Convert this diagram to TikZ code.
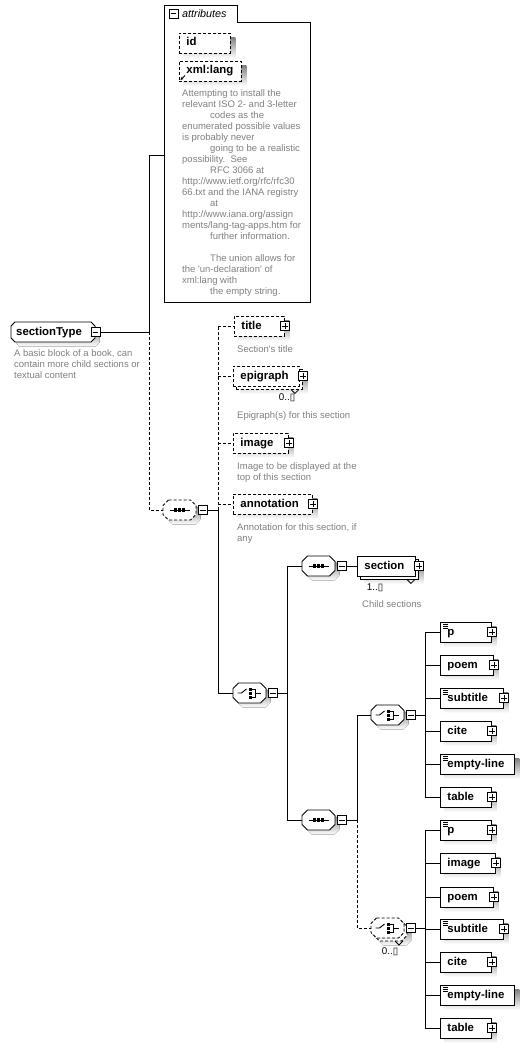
\documentclass[tikz,border=0pt]{standalone}
\usepackage{fontspec}
\setmainfont{Liberation Sans}
\newfontfamily\glyphfont{DejaVu Sans}
\usetikzlibrary{arrows.meta}

\definecolor{doctext}{RGB}{128,128,128}
\definecolor{shade}{RGB}{192,192,192}

\pgfdeclarelayer{shadows}
\pgfsetlayers{shadows,main}

% octagon outline of a compositor (sequence / choice)
\newcommand\octpath[5]{(#1+#5,#2) -- (#3-#5,#2) -- (#3,#2+#5) -- (#3,#4-#5) -- (#3-#5,#4) -- (#1+#5,#4) -- (#1,#4-#5) -- (#1,#2+#5) -- cycle}
% left, top, right, bottom, line style, shadow offset
\newcommand\octshape[6]{%
  \fill[shade, shift={(#6,#6)}] \octpath{#1}{#2}{#3}{#4}{5.5};
  \draw[fill=white, line width=0.9pt, #5] \octpath{#1}{#2}{#3}{#4}{5.5};}
% named node over a compositor, with its collapse box
\newcommand\compnode[5]{%
  \node[inner sep=0pt, minimum width={(#4-#2)*1pt}, minimum height={(#5-#3)*1pt}] (#1) at ({(#2+#4)/2},{(#3+#5)/2}) {};
  \node[pmbox] (#1-pm) at ([xshift=7pt]#1.east) {};
  \minusmark{#1-pm}}
\newcommand\minusmark[1]{\draw[line width=0.8pt] ([xshift=2pt]#1.west) -- ([xshift=-2pt]#1.east);}
\newcommand\plusmark[1]{\draw[line width=0.8pt] ([xshift=2pt]#1.west) -- ([xshift=-2pt]#1.east) ([yshift=-2pt]#1.north) -- ([yshift=2pt]#1.south);}
% grey drop shadow under a box, kept on the lowest layer
\newcommand\boxshadow[1]{%
  \begin{pgfonlayer}{shadows}
    \fill[shade] ([shift={(4.5,4.5)}]#1.north west) rectangle ([shift={(4.5,4.5)}]#1.south east);
  \end{pgfonlayer}}
% element box: [style]{name}{west point}{width}{label}
\newcommand\element[5][]{%
  \node[elbox,#1,minimum width=#4pt] (#2) at (#3) {\makebox[\dimexpr#4pt-14pt\relax][l]{#5}};
  \boxshadow{#2}}
% element with several occurrences: a second box behind the first
\newcommand\stackedelement[5][]{%
  \node[elbox,#1,minimum width=#4pt] (#2-back) at ([shift={(3,3)}]#3) {};
  \boxshadow{#2-back}
  \node[elbox,#1,minimum width=#4pt] (#2) at (#3) {\makebox[\dimexpr#4pt-14pt\relax][l]{#5}};}
\newcommand\expander[1]{\node[pmbox] (#1-pm) at (#1.east) {}; \plusmark{#1-pm}}
\newcommand\textmark[1]{%
  \draw[line width=0.6pt] ([shift={(3,2.5)}]#1.north west) -- ++(5,0)
    ([shift={(3,4.5)}]#1.north west) -- ++(5,0)
    ([shift={(3,6.5)}]#1.north west) -- ++(5,0);}
\newcommand\multimark[1]{\draw[line width=0.8pt, shift={(#1)}] (-12,0) -- (-8,4) -- (-4,0);}
\newcommand\seqicon[1]{%
  \draw[line width=0.9pt] ([xshift=-10pt]#1.center) -- ([xshift=10pt]#1.center);
  \foreach \d in {-4,0,4} \fill ([xshift=\d pt]#1.center) +(-1.6,-1.6) rectangle +(1.6,1.6);}
\newcommand\choiceicon[1]{%
  \begin{scope}[shift={(#1.center)}]
    \draw[line width=0.9pt] (-12,0) -- (-8,0) -- (-3,-4);
    \foreach \d in {-4,0,4} \fill (1,\d) +(-1.5,-1.5) rectangle +(1.5,1.5);
    \draw[line width=0.9pt] (2.5,-4) -- (6,-4) -- (6,4) -- (2.5,4) (6,0) -- (11,0);
  \end{scope}}

\begin{document}
\begin{tikzpicture}[x=1pt, y=-1pt,
  conn/.style={line width=0.9pt},
  optbox/.style={dash pattern=on 3pt off 2pt},
  optconn/.style={conn, optbox},
  elbox/.style={draw, fill=white, line width=0.9pt, rectangle, minimum height=20pt,
    inner xsep=7pt, inner ysep=0pt, anchor=west,
    font=\fontsize{11.4}{13}\selectfont\bfseries, text height=8pt, text depth=2pt},
  pmbox/.style={draw, fill=white, line width=0.8pt, minimum size=9pt, inner sep=0pt},
  doc/.style={text=doctext, font=\fontsize{9.5}{11}\selectfont, align=left, anchor=north west, inner sep=0pt},
  num/.style={font=\fontsize{9.8}{11}\selectfont, inner sep=0pt},
]
\begin{pgfonlayer}{shadows}
  \useasboundingbox (0,0) rectangle (529,1048);
  \fill[white] (0,0) rectangle (529,1048);
\end{pgfonlayer}

% ---------- attribute group ----------
\draw[line width=0.9pt] (164,302) -- (164,5) -- (237,5) -- (237,22) -- (310,22) -- (310,302) -- cycle;
\node[inner sep=0pt, minimum width=146pt, minimum height=280pt] (attrs) at (237,162) {};
\node[pmbox] (attrs-pm) at (173.5,13.5) {};
\minusmark{attrs-pm}
\node[anchor=west, inner sep=0pt, font=\fontsize{10.8}{12}\selectfont\itshape] (attrs-title) at (182,13.5) {attributes};
\element[optbox]{id}{179,43}{51}{id}
\element[optbox]{xmllang}{179,71}{62}{xml:lang}
\draw[-{Stealth[length=3pt,width=3pt]}, line width=0.8pt]
  ([shift={(6,-6)}]xmllang.south west) -- ([shift={(1.5,-1.5)}]xmllang.south west);
\node[doc] (xmllang-doc) at (182,88.3) {\strut Attempting to install the\\
relevant ISO 2- and 3-letter\\
\hspace*{28pt}codes as the\\
enumerated possible values\\
is probably never\\
\hspace*{28pt}going to be a realistic\\
possibility.\ \ See\\
\hspace*{28pt}RFC 3066 at\\
http://www.ietf.org/rfc/rfc30\\
66.txt and the IANA registry\\
\hspace*{28pt}at\\
http://www.iana.org/assign\\
ments/lang-tag-apps.htm for\\
\hspace*{28pt}further information.\\
\mbox{}\\
\hspace*{28pt}The union allows for\\
the \textquotesingle un-declaration\textquotesingle\ of\\
xml:lang with\\
\hspace*{28pt}the empty string.};

% ---------- root element ----------
\fill[shade, shift={(4.5,4.5)}] \octpath{11}{322}{95}{342}{4};
\draw[fill=white, line width=0.9pt] \octpath{11}{322}{95}{342}{4};
\node[anchor=west, inner sep=0pt, font=\fontsize{11.4}{13}\selectfont\bfseries, text height=8pt, text depth=2pt] (st) at (16,332) {sectionType};
\node[pmbox] (st-pm) at (95.5,332) {};
\minusmark{st-pm}
\node[doc] (st-doc) at (14,348.3) {\strut A basic block of a book, can\\contain more child sections or\\textual content};

% ---------- first sequence ----------
\octshape{163}{500}{196}{520}{optbox}{4.5}
\compnode{seq1}{163}{500}{196}{520}
\seqicon{seq1}

\element[optbox]{title}{234,326}{50}{title}
\expander{title}
\node[doc] (title-doc) at (237,344.3) {\strut Section\textquotesingle s title};

\stackedelement[optbox]{epigraph}{233,376}{66}{epigraph}
\node[pmbox] (epigraph-pm) at (epigraph-back.east |- epigraph.east) {};
\plusmark{epigraph-pm}
\multimark{epigraph-back.south east}
\node[num] (epigraph-occ) at (287,398) {0..{\glyphfont ▯}};
\node[doc] (epigraph-doc) at (237,410.3) {\strut Epigraph(s) for this section};

\element[optbox]{image}{233,443}{55}{image}
\expander{image}
\node[doc] (image-doc) at (237,461.3) {\strut Image to be displayed at the\\top of this section};

\element[optbox]{annotation}{233,504}{79}{annotation}
\expander{annotation}
\node[doc] (annotation-doc) at (237,522.3) {\strut Annotation for this section, if\\any};

% ---------- choice of content ----------
\octshape{233}{683}{266}{703}{}{4.5}
\compnode{ch1}{233}{683}{266}{703}
\choiceicon{ch1}

\octshape{302}{556}{335}{576}{}{4.5}
\compnode{seq2}{302}{556}{335}{576}
\seqicon{seq2}

\stackedelement{section}{357,566}{58}{section}
\node[pmbox] (section-pm) at (section-back.east |- section.east) {};
\plusmark{section-pm}
\multimark{section-back.south east}
\node[num] (section-occ) at (375,588) {1..{\glyphfont ▯}};
\node[doc] (section-doc) at (362,599.3) {\strut Child sections};

\octshape{302}{810}{335}{830}{}{4.5}
\compnode{seq3}{302}{810}{335}{830}
\seqicon{seq3}

\octshape{371}{705}{404}{725}{}{4.5}
\compnode{ch2}{371}{705}{404}{725}
\choiceicon{ch2}

\octshape{374}{921}{407}{941}{optbox}{4.5}
\octshape{371}{918}{404}{938}{optbox}{0}
\compnode{ch3}{371}{918}{404}{938}
\choiceicon{ch3}
\coordinate (ch3-back) at (407,941);
\multimark{ch3-back}
\node[num] (ch3-occ) at (390,952) {0..{\glyphfont ▯}};

% block content, first choice
\element{p1}{440,632}{51}{p}            \expander{p1} \textmark{p1}
\element{poem1}{440,665}{53}{poem}      \expander{poem1}
\element{subtitle1}{440,698}{63}{subtitle} \expander{subtitle1} \textmark{subtitle1}
\element{cite1}{440,731}{51}{cite}      \expander{cite1}
\element{emptyline1}{440,764}{74}{empty-line} \textmark{emptyline1}
\element{table1}{440,797}{51}{table}    \expander{table1}

% block content, repeated choice
\element{p2}{440,830}{51}{p}            \expander{p2} \textmark{p2}
\element{image2}{440,863}{55}{image}    \expander{image2}
\element{poem2}{440,897}{53}{poem}      \expander{poem2}
\element{subtitle2}{440,929}{63}{subtitle} \expander{subtitle2} \textmark{subtitle2}
\element{cite2}{440,962}{51}{cite}      \expander{cite2}
\element{emptyline2}{440,995}{74}{empty-line} \textmark{emptyline2}
\element{table2}{440,1028}{51}{table}   \expander{table2}

% ---------- connectors ----------
\coordinate (busM) at (149,332);
\coordinate (attrs-in) at (164,155);
\draw[conn] (st-pm.east) -- (busM);
\draw[conn] (busM) |- (attrs-in);
\draw[optconn] (busM) |- (seq1.west);

\coordinate (busA) at (218,510);
\draw[conn] (seq1-pm.east) -- (busA);
\draw[optconn] (busA) -- (busA |- title.west);
\foreach \n in {title,epigraph,image,annotation}
  \draw[optconn] (busA |- \n.west) -- (\n.west);
\draw[conn] (busA) |- (ch1.west);

\coordinate (busB) at (287,693);
\draw[conn] (ch1-pm.east) -- (busB);
\draw[conn] (busB) |- (seq2.west);
\draw[conn] (busB) |- (seq3.west);
\draw[conn] (seq2-pm.east) -- (section.west);

\coordinate (busC) at (357,820);
\draw[conn] (seq3-pm.east) -- (busC);
\draw[conn] (busC) |- (ch2.west);
\draw[optconn] (busC) |- (ch3.west);

\coordinate (busD) at (425,715);
\draw[conn] (ch2-pm.east) -- (busD);
\draw[conn] (busD |- p1.west) -- (busD |- table1.west);
\foreach \n in {p1,poem1,subtitle1,cite1,emptyline1,table1}
  \draw[conn] (busD |- \n.west) -- (\n.west);

\coordinate (busE) at (425,928);
\draw[conn] (ch3-pm.east) -- (busE);
\draw[conn] (busE |- p2.west) -- (busE |- table2.west);
\foreach \n in {p2,image2,poem2,subtitle2,cite2,emptyline2,table2}
  \draw[conn] (busE |- \n.west) -- (\n.west);
\end{tikzpicture}
\end{document}
